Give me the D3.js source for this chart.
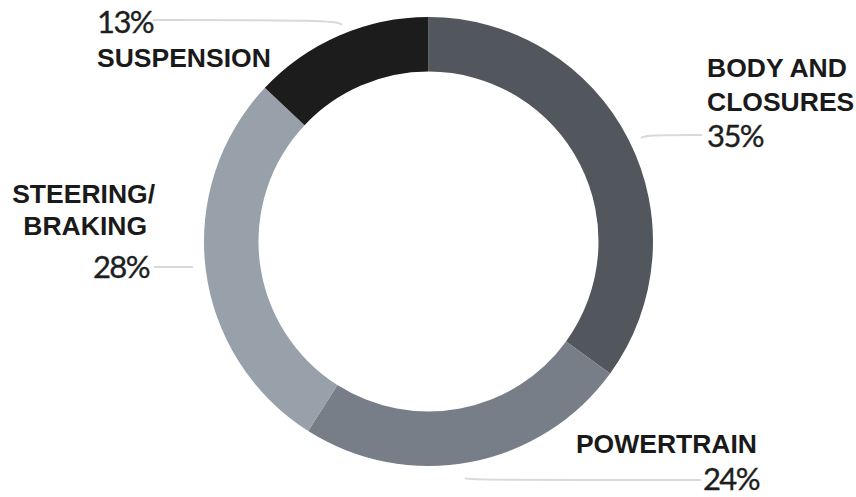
<!DOCTYPE html>
<html>
<head>
<meta charset="utf-8">
<script src="https://cdn.jsdelivr.net/npm/d3@7"></script>
<style>
  html, body { margin: 0; padding: 0; background: #fff; }
  svg { display: block; }
  .name { font-family: "Liberation Sans", Arial, sans-serif; font-weight: bold; font-size: 26.5px; fill: #1a1a1a; }
  .pct { font-family: Lato, "Open Sans", sans-serif; font-weight: 400; font-size: 31px; letter-spacing: -1.6px;
         fill: #1e1e1e; stroke: #1e1e1e; stroke-width: 0.35px; }
  .leader { fill: none; stroke: #d9d9d9; stroke-width: 2; }
</style>
</head>
<body>
<svg id="chart" width="856" height="497"></svg>
<script>
// Share of components, clockwise from 12 o'clock
const categories = ["BODY AND CLOSURES", "POWERTRAIN", "STEERING/BRAKING", "SUSPENSION"];
const shares = [35, 24, 28, 13];
const nameLines = [["BODY AND", "CLOSURES"], ["POWERTRAIN"], ["STEERING/", "BRAKING"], ["SUSPENSION"]];

const fills = ["#52565d", "#787e87", "#98a0aa", "#1d1c1d"];

const width = 856, height = 497;
const cx = 428.5, cy = 241.5;
const outerR = 224.5, innerR = 170;

const svg = d3.select("#chart");

const pie = d3.pie().sort(null).value(d => d.value);
const arc = d3.arc().innerRadius(innerR).outerRadius(outerR);
const data = categories.map((c, i) => ({ name: c, value: shares[i], lines: nameLines[i], fill: fills[i] }));
const arcs = pie(data);

const ring = svg.append("g").attr("transform", `translate(${cx},${cy})`);
ring.selectAll("path")
  .data(arcs)
  .join("path")
  .attr("d", arc)
  .attr("fill", d => d.data.fill);

// Label placement per category: text anchor, x, name baselines, percent baseline,
// and the leader line beside the percent.
const layout = {
  "BODY AND CLOSURES": { anchor: "start", x: 707, nameY: [77, 111], pctY: 147,
    leader: [[641, 138], [646, 135], [702, 135]] },
  "POWERTRAIN": { anchor: "end", x: 757, nameY: [453], pctY: 490,
    leader: [[465, 478], [469, 480], [701, 480]] },
  "STEERING/BRAKING": { anchor: "end", x: 147, nameY: [203, 235], pctY: 278,
    leader: [[154, 267], [193, 267]], nameX: [155, 147] },
  "SUSPENSION": { anchor: "start", x: 97, nameY: [67], pctY: 33,
    leader: [[153, 20], [336, 20], [342, 25]] }
};

const line = d3.line().curve(d3.curveBasis);

const labels = svg.append("g");
data.forEach(d => {
  const L = layout[d.name];
  const g = labels.append("g");
  d.lines.forEach((t, j) => {
    g.append("text")
      .attr("class", "name")
      .attr("x", L.nameX ? L.nameX[j] : L.x)
      .attr("y", L.nameY[j])
      .attr("text-anchor", L.anchor)
      .text(t);
  });
  g.append("text")
    .attr("class", "pct")
    .attr("x", L.x + (L.anchor === "end" ? 2 : 0))
    .attr("y", L.pctY)
    .attr("text-anchor", L.anchor)
    .text(d3.format("d")(d.value) + "%");
  g.append("path")
    .attr("class", "leader")
    .attr("d", line(L.leader));
});
</script>
</body>
</html>
